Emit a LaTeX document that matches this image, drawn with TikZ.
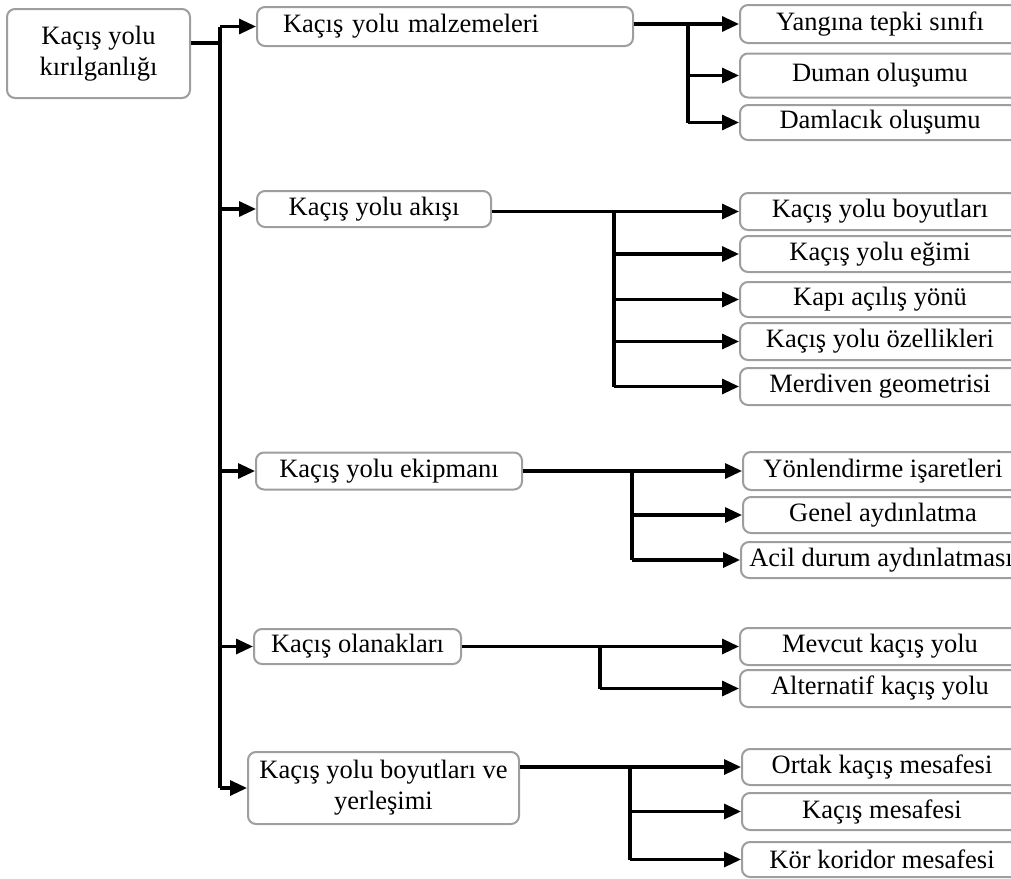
\documentclass[tikz,border=0pt]{standalone}
\usepackage{fontspec}
\setmainfont{Liberation Serif}
\usetikzlibrary{arrows.meta}
\tikzset{
  box/.style={draw=black!38, line width=2pt, rounded corners=8pt, fill=white,
    inner sep=0pt, align=center, font=\fontsize{26.5}{31}\selectfont},
  kid/.style={box, minimum width=280pt},
  wire/.style={line width=3.2pt, black},
  arr/.style={wire, -{Triangle[length=17pt,width=15pt]}}
}
\begin{document}
\begin{tikzpicture}[x=1pt,y=-1pt]
\useasboundingbox (0,0) rectangle (1011,878);
\clip (0,0) rectangle (1011,878);
% root
\node[box, minimum width=183pt, minimum height=89pt] (root) at (98.5,53.5) {Kaçış yolu\\kırılganlığı};
% level 1
\node[box, text width=324pt, inner xsep=26pt, align=left, minimum height=39pt] (b1) at (445,26.5) {Kaçış yolu malzemeleri};
\node[box, minimum width=234pt, minimum height=36pt] (b2) at (374,209) {Kaçış yolu akışı};
\node[box, minimum width=266pt, minimum height=37pt] (b3) at (389,471) {Kaçış yolu ekipmanı};
\node[box, minimum width=207pt, minimum height=35pt] (b4) at (357.5,646.5) {Kaçış olanakları};
\node[box, minimum width=271pt, minimum height=72pt] (b5) at (383.5,788) {Kaçış yolu boyutları ve\\yerleşimi};
% group 1
\node[kid, minimum height=38pt] (c11) at (880,24) {Yangına tepki sınıfı};
\node[kid, minimum height=44pt] (c12) at (880,75.5) {Duman oluşumu};
\node[kid, minimum height=35pt] (c13) at (880,122.5) {Damlacık oluşumu};
% group 2
\node[kid, minimum height=37pt] (c21) at (880,211.5) {Kaçış yolu boyutları};
\node[kid, minimum height=36pt] (c22) at (880,254) {Kaçış yolu eğimi};
\node[kid, minimum height=35pt] (c23) at (880,299.5) {Kapı açılış yönü};
\node[kid, minimum height=37pt] (c24) at (880,341.5) {Kaçış yolu özellikleri};
\node[kid, minimum height=37pt] (c25) at (880,386.5) {Merdiven geometrisi};
% group 3
\node[kid, minimum height=38pt] (c31) at (883,471) {Yönlendirme işaretleri};
\node[kid, minimum height=36pt] (c32) at (883,515) {Genel aydınlatma};
\node[kid, minimum height=36pt] (c33) at (881,560) {Acil durum aydınlatması};
% group 4
\node[kid, minimum height=37pt] (c41) at (880,646.5) {Mevcut kaçış yolu};
\node[kid, minimum height=37pt] (c42) at (880,688.5) {Alternatif kaçış yolu};
% group 5
\node[kid, minimum height=36pt] (c51) at (882,767) {Ortak kaçış mesafesi};
\node[kid, minimum height=37pt] (c52) at (882,811.5) {Kaçış mesafesi};
\node[kid, minimum height=35pt] (c53) at (882,859.5) {Kör koridor mesafesi};
% trunk
\coordinate (t0) at (220,43);
\draw[wire] ([yshift=10.5pt]root.east) -- (t0);
\draw[wire] (b1.west -| t0) -- (b5.west -| t0);
\draw[arr] (b1.west -| t0) -- (b1.west);
\draw[arr] (b2.west -| t0) -- (b2.west);
\draw[arr] (b3.west -| t0) -- (b3.west);
\draw[arr] (b4.west -| t0) -- (b4.west);
\draw[arr] (b5.west -| t0) -- (b5.west);
% group 1 bus
\coordinate (j1) at (c11.west -| 688,0);
\draw[arr] (b1.east |- c11.west) -- (c11.west);
\draw[wire] (j1) -- (c13.west -| j1);
\draw[arr] (c12.west -| j1) -- (c12.west);
\draw[arr] (c13.west -| j1) -- (c13.west);
% group 2 bus
\coordinate (j2) at (c21.west -| 614,0);
\draw[arr] (b2.east |- c21.west) -- (c21.west);
\draw[wire] (j2) -- (c25.west -| j2);
\draw[arr] (c22.west -| j2) -- (c22.west);
\draw[arr] (c23.west -| j2) -- (c23.west);
\draw[arr] (c24.west -| j2) -- (c24.west);
\draw[arr] (c25.west -| j2) -- (c25.west);
% group 3 bus
\coordinate (j3) at (c31.west -| 632,0);
\draw[arr] (b3.east |- c31.west) -- (c31.west);
\draw[wire] (j3) -- (c33.west -| j3);
\draw[arr] (c32.west -| j3) -- (c32.west);
\draw[arr] (c33.west -| j3) -- (c33.west);
% group 4 bus
\coordinate (j4) at (c41.west -| 600,0);
\draw[arr] (b4.east |- c41.west) -- (c41.west);
\draw[wire] (j4) -- (c42.west -| j4);
\draw[arr] (c42.west -| j4) -- (c42.west);
% group 5 bus
\coordinate (j5) at (c51.west -| 630,0);
\draw[arr] (b5.east |- c51.west) -- (c51.west);
\draw[wire] (j5) -- (c53.west -| j5);
\draw[arr] (c52.west -| j5) -- (c52.west);
\draw[arr] (c53.west -| j5) -- (c53.west);
\end{tikzpicture}
\end{document}
